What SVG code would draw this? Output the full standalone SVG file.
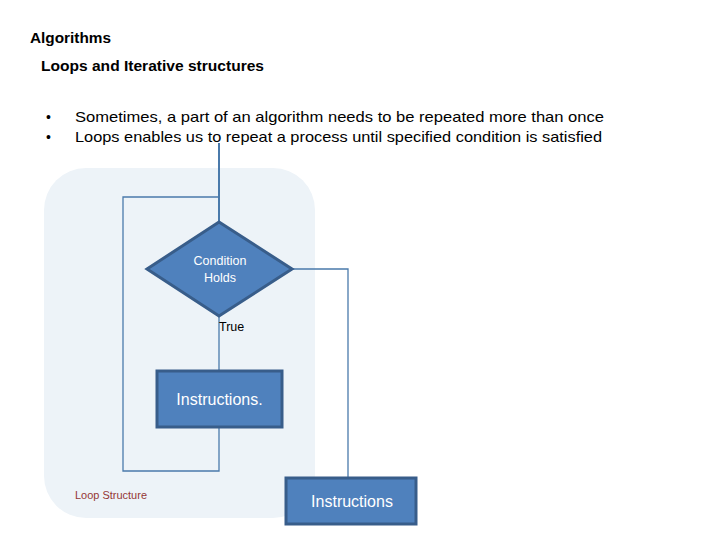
<svg xmlns="http://www.w3.org/2000/svg" width="720" height="540" viewBox="0 0 720 540">
<style>
.t{font-family:"Liberation Sans",Arial,sans-serif;fill:#000}
.b{font-weight:bold}
.shape{fill:#4f81bd;stroke:#385d8a;stroke-width:3}
.lbl{font-family:"Liberation Sans",Arial,sans-serif;fill:#fff;text-anchor:middle}
.conn{fill:none;stroke:#4a7aab;stroke-width:1.3}
</style>
<rect width="720" height="540" fill="#fff"/>
<text class="t b" x="30" y="43" font-size="15" textLength="81" lengthAdjust="spacingAndGlyphs">Algorithms</text>
<text class="t b" x="41" y="71" font-size="15" textLength="223" lengthAdjust="spacingAndGlyphs">Loops and Iterative structures</text>
<text class="t" x="46" y="122" font-size="14">•</text>
<text class="t" x="46" y="142" font-size="14">•</text>
<text class="t" x="75" y="122" font-size="15" textLength="529" lengthAdjust="spacingAndGlyphs">Sometimes, a part of an algorithm needs to be repeated more than once</text>
<text class="t" x="75" y="142" font-size="15" textLength="527" lengthAdjust="spacingAndGlyphs">Loops enables us to repeat a process until specified condition is satisfied</text>
<g id="loop-structure">
<rect x="44" y="168" width="271" height="350" rx="42" fill="#edf3f8"/>
<text x="75" y="499" font-family="Liberation Sans,Arial,sans-serif" font-size="10.5" fill="#953735" textLength="72" lengthAdjust="spacingAndGlyphs">Loop Structure</text>
</g>
<g id="connectors">
<line x1="219" y1="143" x2="219" y2="222" stroke="#4a7aab" stroke-width="2"/>
<polyline class="conn" points="219,197 123,197 123,471 219,471 219,427"/>
<line class="conn" x1="219" y1="316" x2="219" y2="371"/>
<polyline class="conn" points="292,269 348,269 348,478"/>
<text x="219" y="331" font-family="Liberation Sans,Arial,sans-serif" font-size="12.5" fill="#000">True</text>
</g>
<g id="condition">
<polygon class="shape" points="219,222 292,269 219,316 147,269"/>
<text class="lbl" x="220" y="265" font-size="12.5">Condition</text>
<text class="lbl" x="220" y="282" font-size="12.5">Holds</text>
</g>
<g id="instructions-loop">
<rect class="shape" x="157" y="371" width="125" height="56"/>
<text class="lbl" x="219.5" y="405" font-size="16">Instructions.</text>
</g>
<g id="instructions-after">
<rect class="shape" x="286" y="478" width="130" height="46"/>
<text class="lbl" x="352" y="507" font-size="16">Instructions</text>
</g>
</svg>
